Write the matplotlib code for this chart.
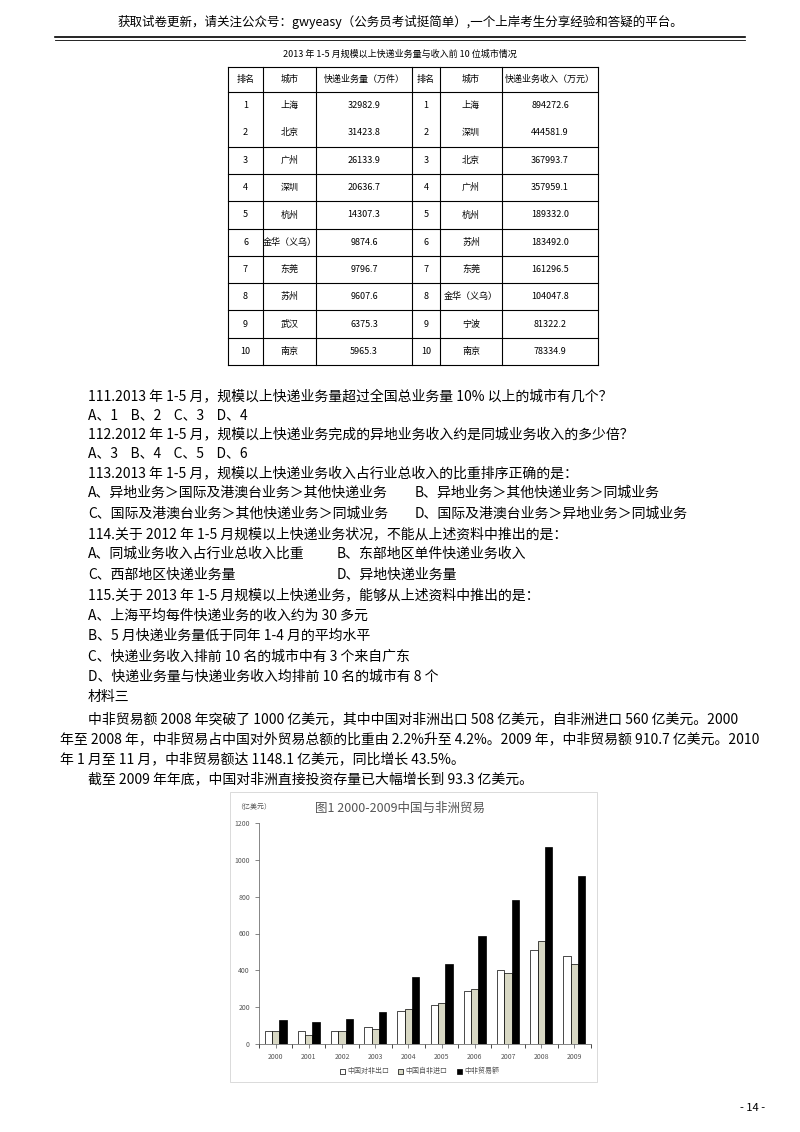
import matplotlib.pyplot as plt
import numpy as np

plt.rcParams["font.family"] = ["Noto Sans CJK SC", "DejaVu Sans"]

# table data
ranks = list(range(1, 11))
cities_volume = ["上海", "北京", "广州", "深圳", "杭州", "金华（义乌）", "东莞", "苏州", "武汉", "南京"]
volume = ["32982.9", "31423.8", "26133.9", "20636.7", "14307.3", "9874.6", "9796.7", "9607.6", "6375.3", "5965.3"]
cities_income = ["上海", "深圳", "北京", "广州", "杭州", "苏州", "东莞", "金华（义乌）", "宁波", "南京"]
income = ["894272.6", "444581.9", "367993.7", "357959.1", "189332.0", "183492.0", "161296.5", "104047.8", "81322.2", "78334.9"]

# chart data
years = ["2000", "2001", "2002", "2003", "2004", "2005", "2006", "2007", "2008", "2009"]
exports = [68, 68, 70, 92, 180, 210, 288, 400, 508, 478]
imports = [70, 48, 68, 82, 190, 225, 297, 388, 560, 435]
trade = [130, 117, 135, 173, 362, 435, 588, 783, 1068, 910]

W, H = 800, 1132
fig = plt.figure(figsize=(W / 100, H / 100), dpi=100)


def px(x, y):
    return x / W, 1 - y / H


def text(x, y, s, size=9.5, **kw):
    fig.text(*px(x, y), s, fontsize=size, va="center", **kw)


def hline(x0, x1, y, lw=0.8, color="black"):
    fig.add_artist(plt.Line2D([x0 / W, x1 / W], [1 - y / H, 1 - y / H], color=color, lw=lw))


def vline(x, y0, y1, lw=0.8):
    fig.add_artist(plt.Line2D([x / W, x / W], [1 - y0 / H, 1 - y1 / H], color="black", lw=lw))


# header
text(400, 22, "获取试卷更新，请关注公众号：gwyeasy（公务员考试挺简单）,一个上岸考生分享经验和答疑的平台。", 9, ha="center")
hline(55, 745, 37, 1.2)
hline(55, 745, 40, 0.6)

# table
text(400, 54, "2013 年 1-5 月规模以上快递业务量与收入前 10 位城市情况", 6.5, ha="center")
cols = [228, 263, 316, 412, 440, 502, 598]
top, head_h, row_h = 67, 25, 27.3
bottom = top + head_h + row_h * 10
for x in cols:
    vline(x, top, bottom)
hline(cols[0], cols[-1], top)
hline(cols[0], cols[-1], top + head_h)
for i in range(2, 11):
    hline(cols[0], cols[-1], top + head_h + row_h * i)
heads = ["排名", "城市", "快递业务量（万件）", "排名", "城市", "快递业务收入（万元）"]
centers = [(cols[i] + cols[i + 1]) / 2 for i in range(6)]
for c, h in zip(centers, heads):
    text(c, top + head_h / 2, h, 6.5, ha="center")
for i in range(10):
    y = top + head_h + row_h * (i + 0.5)
    row = [str(ranks[i]), cities_volume[i], volume[i], str(ranks[i]), cities_income[i], income[i]]
    for c, s in zip(centers, row):
        text(c, y, s, 6.5, ha="center")

# questions
L = 88
lines = [
    (396, L, "111.2013 年 1-5 月，规模以上快递业务量超过全国总业务量 10% 以上的城市有几个？"),
    (415, L, "A、1    B、2    C、3    D、4"),
    (434, L, "112.2012 年 1-5 月，规模以上快递业务完成的异地业务收入约是同城业务收入的多少倍？"),
    (453, L, "A、3    B、4    C、5    D、6"),
    (473, L, "113.2013 年 1-5 月，规模以上快递业务收入占行业总收入的比重排序正确的是："),
    (493, L, "A、异地业务＞国际及港澳台业务＞其他快递业务"),
    (493, 415, "B、异地业务＞其他快递业务＞同城业务"),
    (514, L, "C、国际及港澳台业务＞其他快递业务＞同城业务"),
    (514, 415, "D、国际及港澳台业务＞异地业务＞同城业务"),
    (534, L, "114.关于 2012 年 1-5 月规模以上快递业务状况，不能从上述资料中推出的是："),
    (554, L, "A、同城业务收入占行业总收入比重"),
    (554, 337, "B、东部地区单件快递业务收入"),
    (575, L, "C、西部地区快递业务量"),
    (575, 337, "D、异地快递业务量"),
    (595, L, "115.关于 2013 年 1-5 月规模以上快递业务，能够从上述资料中推出的是："),
    (616, L, "A、上海平均每件快递业务的收入约为 30 多元"),
    (636, L, "B、5 月快递业务量低于同年 1-4 月的平均水平"),
    (657, L, "C、快递业务收入排前 10 名的城市中有 3 个来自广东"),
    (677, L, "D、快递业务量与快递业务收入均排前 10 名的城市有 8 个"),
    (697, L, "材料三"),
    (719, L, "中非贸易额 2008 年突破了 1000 亿美元，其中中国对非洲出口 508 亿美元，自非洲进口 560 亿美元。2000"),
    (739, 60, "年至 2008 年，中非贸易占中国对外贸易总额的比重由 2.2%升至 4.2%。2009 年，中非贸易额 910.7 亿美元。2010"),
    (759, 60, "年 1 月至 11 月，中非贸易额达 1148.1 亿美元，同比增长 43.5%。"),
    (779, L, "截至 2009 年年底，中国对非洲直接投资存量已大幅增长到 93.3 亿美元。"),
]
for y, x, s in lines:
    text(x, y, s, 10)

# chart frame
fig.add_artist(plt.Rectangle(px(230, 1082), 367 / W, 290 / H, fill=False, lw=0.5, color="#cccccc"))
text(400, 808, "图1 2000-2009中国与非洲贸易", 9, ha="center", color="#555555")
text(236, 807, "（亿美元）", 5, color="#555555")

ax = fig.add_axes([259 / W, 1 - 1044 / H, 332 / W, 221 / H])
x = np.arange(len(years))
bw = 0.22
ax.bar(x - bw, exports, bw, color="white", edgecolor="black", lw=0.5)
ax.bar(x, imports, bw, color="#d8d8c4", edgecolor="black", lw=0.5)
ax.bar(x + bw, trade, bw, color="black", edgecolor="black", lw=0.5)
ax.set_ylim(0, 1200)
ax.set_xlim(-0.5, len(years) - 0.5)
ax.set_yticks(range(0, 1201, 200))
ax.set_xticks(x)
ax.set_xticklabels(years)
ax.set_xticks(np.arange(-0.5, len(years)), minor=True)
ax.tick_params(axis="x", which="major", length=0)
ax.tick_params(axis="x", which="minor", length=3, width=0.5)
ax.tick_params(labelsize=5, colors="#555555", width=0.5, length=3)
for s in ["top", "right"]:
    ax.spines[s].set_visible(False)
for s in ["left", "bottom"]:
    ax.spines[s].set_linewidth(0.5)
    ax.spines[s].set_color("#555555")

legend_items = [(340, "white", "中国对非出口"), (398, "#d8d8c4", "中国自非进口"), (457, "black", "中非贸易额")]
for lx, c, s in legend_items:
    fig.add_artist(plt.Rectangle(px(lx, 1074), 5 / W, 5 / H, facecolor=c, edgecolor="black", lw=0.5))
    text(lx + 7, 1071, s, 5, color="#555555")

text(740, 1108, "- 14 -", 8)

fig.savefig("out.png", dpi=100, facecolor="white")
